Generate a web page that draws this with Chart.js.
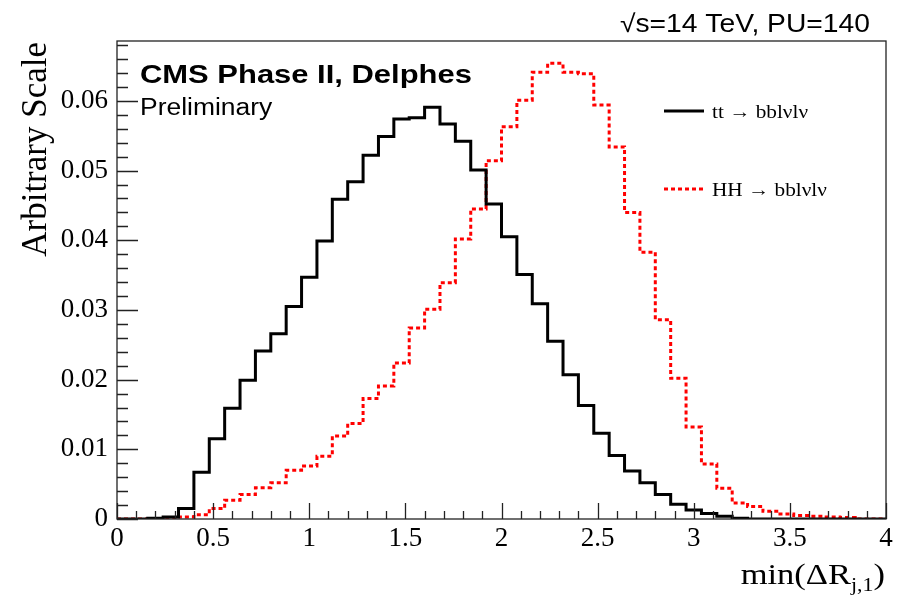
<!DOCTYPE html>
<html>
<head>
<meta charset="utf-8">
<script src="https://cdn.jsdelivr.net/npm/chart.js@4/dist/chart.umd.min.js"></script>
<style>
  html, body { margin: 0; padding: 0; background: #fff; }
</style>
</head>
<body>
<canvas id="chart" width="905" height="600"></canvas>
<script>
// histogram bins: low edges, width 0.08, range 0 - 4
const binLow = [
  0.00, 0.08, 0.16, 0.24, 0.32, 0.40, 0.48, 0.56, 0.64, 0.72,
  0.80, 0.88, 0.96, 1.04, 1.12, 1.20, 1.28, 1.36, 1.44, 1.52,
  1.60, 1.68, 1.76, 1.84, 1.92, 2.00, 2.08, 2.16, 2.24, 2.32,
  2.40, 2.48, 2.56, 2.64, 2.72, 2.80, 2.88, 2.96, 3.04, 3.12,
  3.20, 3.28, 3.36, 3.44, 3.52, 3.60, 3.68, 3.76, 3.84, 3.92
];
const xMax = 4;

// tt -> bblvlv (black, solid)
const ttValues = [
  0, 0, 0.0001, 0.0003, 0.0015, 0.0067, 0.0115, 0.0159, 0.0199, 0.0241,
  0.0266, 0.0305, 0.0347, 0.0399, 0.0459, 0.0484, 0.0522, 0.0549, 0.0574, 0.0576,
  0.0591, 0.0567, 0.0542, 0.0501, 0.0452, 0.0405, 0.0351, 0.0309, 0.0255, 0.0207,
  0.0163, 0.0123, 0.0091, 0.0069, 0.0052, 0.0035, 0.0021, 0.0013, 0.0008, 0.0004,
  0.0001, 0, 0, 0, 0, 0, 0, 0, 0, 0
];

// HH -> bblvlv (red, dashed)
const hhValues = [
  0, 0, 0, 0.0001, 0.0003, 0.0006, 0.0015, 0.0027, 0.0035, 0.0045,
  0.0052, 0.0070, 0.0076, 0.0090, 0.0119, 0.0137, 0.0173, 0.0191, 0.0224, 0.0274,
  0.0301, 0.0339, 0.0402, 0.0445, 0.0514, 0.0563, 0.0601, 0.0641, 0.0654, 0.0641,
  0.0639, 0.0594, 0.0534, 0.0440, 0.0383, 0.0286, 0.0202, 0.0132, 0.0079, 0.0044,
  0.0023, 0.0018, 0.0011, 0.0007, 0.0005, 0.0004, 0.0003, 0.0002, 0, 0
];

const xTickValues = [0, 0.5, 1, 1.5, 2, 2.5, 3, 3.5, 4];
const yTickValues = [0, 0.01, 0.02, 0.03, 0.04, 0.05, 0.06];
const yMax = 0.0686;

const seriesNames = ['tt \u2192 bbl\u03bdl\u03bd', 'HH \u2192 bbl\u03bdl\u03bd'];

// points at the low edge of each bin + closing point at the upper edge
function toSteps(values) {
  const pts = binLow.map((x, i) => ({ x: x, y: values[i] }));
  pts.push({ x: xMax, y: values[values.length - 1] });
  return pts;
}

const serif = "'Liberation Serif', 'Times New Roman', serif";
const sans = "'Liberation Sans', Arial, sans-serif";

// text a bit wider than the font, like the original picture
function wideText(ctx, text, x, y, sx) {
  ctx.save();
  ctx.translate(x, y);
  ctx.scale(sx, 1);
  ctx.fillText(text, 0, 0);
  ctx.restore();
}

// ROOT style frame, inner ticks and text
const rootStyle = {
  id: 'rootStyle',
  afterDraw(chart) {
    const ctx = chart.ctx;
    const a = chart.chartArea;
    const x = chart.scales.x;
    const y = chart.scales.y;
    ctx.save();

    ctx.strokeStyle = '#222';
    ctx.lineWidth = 1.3;
    ctx.strokeRect(a.left, a.top, a.right - a.left, a.bottom - a.top);

    // x ticks (every 0.1, major every 0.5)
    ctx.beginPath();
    for (let k = 0; k <= 40; k++) {
      const px = Math.round(x.getPixelForValue(k * 0.1)) + 0.5;
      const len = k % 5 === 0 ? 16 : 8;
      ctx.moveTo(px, a.bottom);
      ctx.lineTo(px, a.bottom - len);
    }
    // y ticks (every 0.002, major every 0.01)
    for (let k = 0; k * 0.002 <= yMax; k++) {
      const py = Math.round(y.getPixelForValue(k * 0.002)) + 0.5;
      const len = k % 5 === 0 ? 21 : 11;
      ctx.moveTo(a.left, py);
      ctx.lineTo(a.left + len, py);
    }
    ctx.stroke();

    ctx.fillStyle = '#000';

    // y title
    ctx.save();
    ctx.translate(46, 42);
    ctx.rotate(-Math.PI / 2);
    ctx.font = '35px ' + serif;
    ctx.textAlign = 'right';
    ctx.textBaseline = 'alphabetic';
    ctx.fillText('Arbitrary Scale', 0, 0);
    ctx.restore();

    // x title: min(ΔR_{j,1})
    const sx = 1.15;
    const big = '30px ' + serif;
    const small = '19px ' + serif;
    ctx.textBaseline = 'alphabetic';
    ctx.textAlign = 'left';
    ctx.font = big;
    const w1 = ctx.measureText('min(\u0394R').width * sx;
    const w3 = ctx.measureText(')').width * sx;
    ctx.font = small;
    const w2 = ctx.measureText('j,1').width * sx;
    const tx = 885 - (w1 + w2 + w3);
    const base = 584;
    ctx.font = big;
    wideText(ctx, 'min(\u0394R', tx, base, sx);
    ctx.font = small;
    wideText(ctx, 'j,1', tx + w1, base + 7, sx);
    ctx.font = big;
    wideText(ctx, ')', tx + w1 + w2, base, sx);

    // header texts
    ctx.font = '25px ' + sans;
    const hw = ctx.measureText('\u221As=14 TeV, PU=140').width * 1.13;
    wideText(ctx, '\u221As=14 TeV, PU=140', 870 - hw, 32, 1.13);

    ctx.font = 'bold 26px ' + sans;
    wideText(ctx, 'CMS Phase II, Delphes', 140, 83, 1.19);
    ctx.font = '23px ' + sans;
    wideText(ctx, 'Preliminary', 140, 115, 1.15);

    // legend
    const legend = [
      { y: 111, color: '#000', dash: [] },
      { y: 189, color: '#ff0000', dash: [4, 3] }
    ];
    ctx.font = '19px ' + serif;
    const lsx = 96 / ctx.measureText(seriesNames[0]).width;
    legend.forEach((item, i) => {
      ctx.strokeStyle = item.color;
      ctx.lineWidth = 3;
      ctx.setLineDash(item.dash);
      ctx.beginPath();
      ctx.moveTo(664, item.y);
      ctx.lineTo(704, item.y);
      ctx.stroke();
      ctx.setLineDash([]);
      ctx.fillStyle = '#000';
      ctx.textBaseline = 'alphabetic';
      wideText(ctx, seriesNames[i], 712, item.y + 7, lsx);
    });

    ctx.restore();
  }
};

new Chart(document.getElementById('chart'), {
  type: 'line',
  data: {
    datasets: [
      {
        label: seriesNames[0],
        data: toSteps(ttValues),
        borderColor: '#000',
        borderWidth: 3,
        stepped: true,
        pointRadius: 0,
        fill: false
      },
      {
        label: seriesNames[1],
        data: toSteps(hhValues),
        borderColor: '#ff0000',
        borderWidth: 3,
        borderDash: [4, 3],
        stepped: true,
        pointRadius: 0,
        fill: false
      }
    ]
  },
  options: {
    responsive: false,
    animation: false,
    devicePixelRatio: 1,
    layout: { padding: { top: 41, right: 19, left: 0, bottom: 0 } },
    plugins: {
      legend: { display: false },
      tooltip: { enabled: false }
    },
    scales: {
      x: {
        type: 'linear',
        min: 0,
        max: xMax,
        border: { display: false },
        grid: { display: false, drawTicks: false },
        afterBuildTicks: s => { s.ticks = xTickValues.map(v => ({ value: v })); },
        afterFit: s => { s.height = 81; },
        ticks: {
          color: '#000',
          padding: 4,
          maxRotation: 0,
          font: { family: serif, size: 27 },
          callback: v => String(v)
        }
      },
      y: {
        type: 'linear',
        min: 0,
        max: yMax,
        border: { display: false },
        grid: { display: false, drawTicks: false },
        afterBuildTicks: s => { s.ticks = yTickValues.map(v => ({ value: v })); },
        afterFit: s => { s.width = 117; },
        ticks: {
          color: '#000',
          padding: 9,
          font: { family: serif, size: 27 },
          callback: v => (v === 0 ? '0' : v.toFixed(2))
        }
      }
    }
  },
  plugins: [rootStyle]
});
</script>
</body>
</html>
